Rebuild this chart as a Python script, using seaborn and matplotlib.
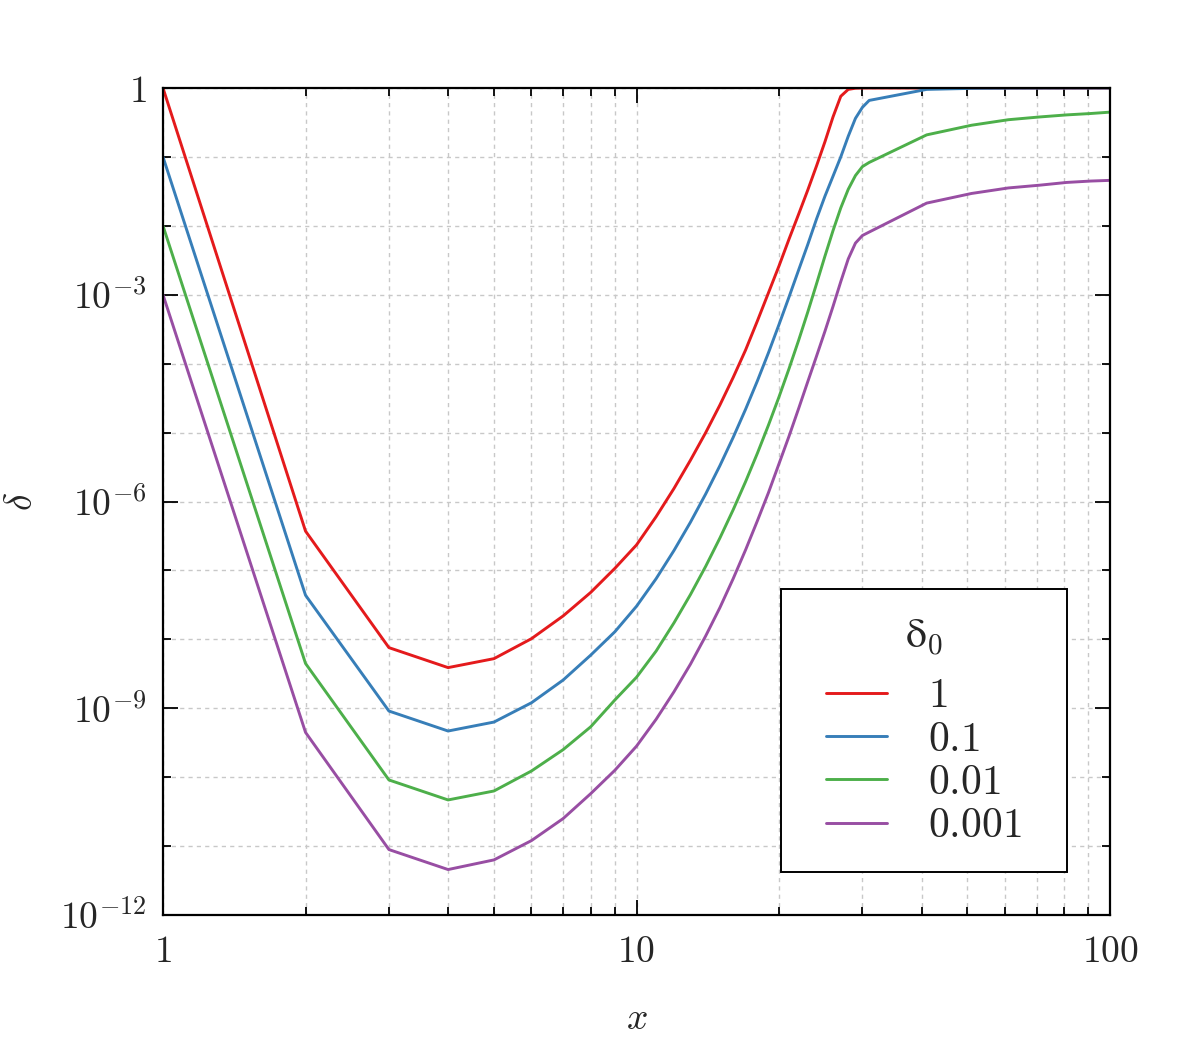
import numpy as np
import pandas as pd
import seaborn as sns
import matplotlib.pyplot as plt
from matplotlib.ticker import FixedLocator, LogLocator, NullFormatter, FuncFormatter

# sample points in x
x = [1, 2, 3, 4, 5, 6, 7, 8, 9, 10, 11, 12, 13, 14, 15, 16, 17, 18, 19, 20,
     21, 22, 23, 24, 25, 26, 27, 28, 29, 30, 31, 41, 51, 61, 71, 81, 91, 100]

# -log10(delta), one list per delta_0
dec_1 = [0.0, 6.43, 8.12, 8.41, 8.28, 7.99, 7.66, 7.32, 6.97, 6.63, 6.22, 5.81,
         5.40, 5.00, 4.60, 4.20, 3.80, 3.38, 2.97, 2.58, 2.19, 1.83, 1.48, 1.13,
         0.78, 0.42, 0.12, 0.02, 0.003, 0.0, 0.0, 0.0, 0.0, 0.0, 0.0, 0.0, 0.0, 0.0]
dec_01 = [1.0, 7.36, 9.04, 9.33, 9.20, 8.92, 8.59, 8.23, 7.89, 7.52, 7.12, 6.71,
          6.30, 5.89, 5.48, 5.07, 4.66, 4.25, 3.84, 3.43, 3.03, 2.64, 2.27, 1.90,
          1.57, 1.28, 1.00, 0.70, 0.44, 0.28, 0.18, 0.02, 0.005, 0.002, 0.001,
          0.0, 0.0, 0.0]
dec_001 = [2.0, 8.35, 10.04, 10.33, 10.20, 9.91, 9.60, 9.27, 8.88, 8.55, 8.17, 7.76,
           7.35, 6.94, 6.53, 6.12, 5.71, 5.30, 4.89, 4.48, 4.07, 3.66, 3.25, 2.84,
           2.44, 2.07, 1.74, 1.47, 1.27, 1.14, 1.08, 0.68, 0.54, 0.46, 0.42, 0.39,
           0.37, 0.35]
dec_0001 = [3.0, 9.35, 11.05, 11.34, 11.20, 10.92, 10.60, 10.24, 9.90, 9.55, 9.16,
            8.76, 8.36, 7.95, 7.54, 7.12, 6.70, 6.28, 5.87, 5.45, 5.05, 4.65, 4.26,
            3.89, 3.53, 3.17, 2.81, 2.48, 2.25, 2.14, 2.09, 1.67, 1.53, 1.45, 1.41,
            1.37, 1.35, 1.34]

labels = ["$1$", "$0.1$", "$0.01$", "$0.001$"]
colors = ["#e41a1c", "#377eb8", "#4daf4a", "#984ea3"]

frames = []
for lab, dec in zip(labels, [dec_1, dec_01, dec_001, dec_0001]):
    frames.append(pd.DataFrame({"x": x, "delta": 10.0 ** (-np.array(dec)), "d0": lab}))
df = pd.concat(frames, ignore_index=True)

sns.set_style("ticks")
plt.rcParams["font.family"] = ["DejaVu Serif"]
plt.rcParams["mathtext.fontset"] = "cm"

fs = 27
lfs = 30
fig = plt.figure(figsize=(11.82, 10.63), dpi=100)
ax = fig.add_axes([0.1379, 0.1392, 0.8012, 0.778])

sns.lineplot(data=df, x="x", y="delta", hue="d0", palette=dict(zip(labels, colors)),
             linewidth=2.1, ax=ax)

ax.set_xscale("log")
ax.set_yscale("log")
ax.set_xlim(1, 100)
ax.set_ylim(1e-12, 1)

ax.yaxis.set_major_locator(FixedLocator([1e-12, 1e-9, 1e-6, 1e-3, 1]))
ax.yaxis.set_minor_locator(FixedLocator([10.0 ** -k for k in range(1, 12) if k % 3]))
ax.yaxis.set_minor_formatter(NullFormatter())
ax.yaxis.set_major_formatter(FuncFormatter(
    lambda v, p: "$1$" if abs(v - 1) < 1e-9 else r"$10^{%d}$" % round(np.log10(v))))

ax.xaxis.set_major_locator(FixedLocator([1, 10, 100]))
ax.xaxis.set_minor_locator(LogLocator(base=10, subs=np.arange(2, 10)))
ax.xaxis.set_minor_formatter(NullFormatter())
ax.xaxis.set_major_formatter(FuncFormatter(lambda v, p: "$%d$" % round(v)))

ax.tick_params(which="both", direction="in", top=True, right=True, width=1.3, color="black")
ax.tick_params(which="major", length=11, labelsize=fs)
ax.tick_params(which="minor", length=6)
ax.tick_params(axis="y", which="major", pad=12)
ax.tick_params(axis="x", which="major", pad=14)

ax.grid(True, which="both", linestyle=(0, (3, 3)), color="#c8c8c8", linewidth=1.0)
for s in ax.spines.values():
    s.set_linewidth(1.6)
    s.set_color("black")

ax.set_xlabel("$x$", fontsize=fs, labelpad=22)
ax.set_ylabel(r"$\delta$", fontsize=fs, labelpad=14)

leg = ax.legend(title=r"$\mathrm{δ}_0$", loc="lower right", bbox_to_anchor=(0.9546, 0.052),
                fontsize=lfs, title_fontsize=lfs, frameon=True, fancybox=False,
                handlelength=1.45, handletextpad=1.0, labelspacing=0.03,
                borderpad=0.62, borderaxespad=0)
leg._legend_box.sep = 12
leg._legend_box.width = 234
leg.get_frame().set_edgecolor("black")
leg.get_frame().set_linewidth(1.4)
leg.get_frame().set_alpha(1)
for line in leg.get_lines():
    line.set_linewidth(2.1)

plt.savefig("out.png", dpi=100)
